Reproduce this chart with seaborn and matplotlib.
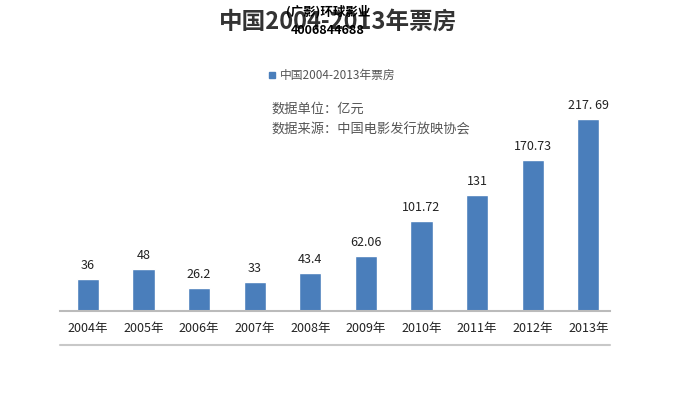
import pandas as pd
import matplotlib.pyplot as plt
import seaborn as sns

years = ["2004年", "2005年", "2006年", "2007年", "2008年",
         "2009年", "2010年", "2011年", "2012年", "2013年"]
box_office = [36, 48, 26.2, 33, 43.4, 62.06, 101.72, 131, 170.73, 217.69]
value_labels = ["36", "48", "26.2", "33", "43.4", "62.06",
                "101.72", "131", "170.73", "217. 69"]

df = pd.DataFrame({"year": years, "value": box_office})

sns.set_style("white")
plt.rcParams["font.family"] = ["Noto Sans CJK SC", "DejaVu Sans"]

fig = plt.figure(figsize=(6.8, 3.99), dpi=100)
W, H = 680, 399
ax = fig.add_axes([60 / W, (H - 311) / H, 550 / W, 251 / H])

bar_color = "#4a7ebb"
sns.barplot(x="year", y="value", data=df, color=bar_color, width=0.4,
            saturation=1, ax=ax)

ax.set_xlim(-0.5, 9.39)
ax.set_ylim(0, 251 / 0.882)

for i, lab in enumerate(value_labels):
    ax.text(i, box_office[i] + 8, lab, ha="center", va="bottom",
            fontsize=9, color="#222222")

ax.set_xlabel("")
ax.set_ylabel("")
ax.set_yticks([])
ax.tick_params(axis="x", length=0, labelsize=9, labelcolor="#222222", pad=8)
for s in ["top", "left", "right"]:
    ax.spines[s].set_visible(False)
ax.spines["bottom"].set_color("#bbbbbb")
ax.spines["bottom"].set_linewidth(1.5)

# bottom frame line
fig.add_artist(plt.Line2D([60 / W, 610 / W], [(H - 345) / H] * 2,
                          color="#c8c8c8", lw=1.5))

# title and watermark
fig.text(338 / W, 1 - 22 / H, "中国2004-2013年票房", ha="center", va="center",
         fontsize=17, fontweight="bold", color="#333333")
fig.text(328 / W, 1 - 12 / H, "(广影)环球影业", ha="center", va="center",
         fontsize=9, fontweight="bold", color="black")
fig.text(328 / W, 1 - 31 / H, "4006844688", ha="center", va="center",
         fontsize=9, fontweight="bold", color="black")

# legend and notes
fig.patches.append(plt.Rectangle((269 / W, 1 - 78 / H), 6 / W, 6 / H,
                                 transform=fig.transFigure, color=bar_color))
fig.text(280 / W, 1 - 75 / H, "中国2004-2013年票房", ha="left", va="center",
         fontsize=8.5, color="#555555")
fig.text(271 / W, 1 - 109 / H, "数据单位：亿元", ha="left", va="center",
         fontsize=9.5, color="#555555")
fig.text(271 / W, 1 - 130 / H, "数据来源：中国电影发行放映协会", ha="left", va="center",
         fontsize=9.5, color="#555555")

plt.savefig("out.png", dpi=100)
